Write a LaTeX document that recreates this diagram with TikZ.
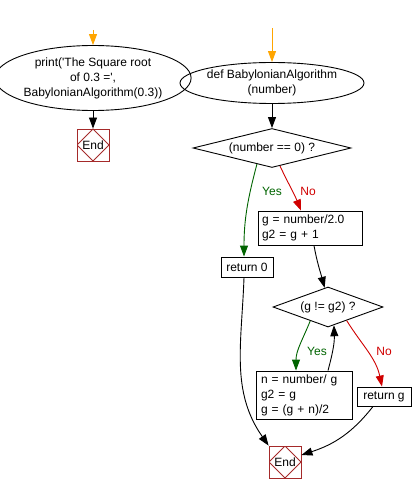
\documentclass[tikz,border=0pt]{standalone}
\usepackage{fontspec}
\setmainfont{Liberation Sans}
\usetikzlibrary{shapes.geometric,arrows.meta}
\definecolor{startorange}{HTML}{FFA500}
\definecolor{yesgreen}{HTML}{006400}
\definecolor{nored}{HTML}{D00000}
\definecolor{endred}{HTML}{A52A2A}
\begin{document}
\begin{tikzpicture}[
    x=1pt,
    y=-1pt,
    line width=0.9pt,
    font=\fontsize{12}{15}\selectfont,
    >={Triangle[length=11pt,width=8pt]},
    every node/.style={
      inner sep=0pt
    },
    ovalbox/.style={
      draw,
      ellipse,
      align=center
    },
    askbox/.style={
      draw,
      diamond,
      aspect=4
    },
    workbox/.style={
      draw,
      rectangle,
      align=left
    },
    endbox/.style={
      draw=endred,
      rectangle,
      minimum size=32pt,
      path picture={
        \draw[endred] (path picture bounding box.north) --
          (path picture bounding box.east) --
          (path picture bounding box.south) --
          (path picture bounding box.west) -- cycle;
      }
    },
    lbl/.style={}
  ]
    \useasboundingbox (0, 0) rectangle (413, 494);

    \coordinate (start1) at (93, 30);
    \node[ovalbox, minimum width=177pt, minimum height=65pt] (print) at (93, 78)
      {print(\textquotesingle The Square root\\of 0.3 =\textquotesingle,\\BabylonianAlgorithm(0.3))};
    \node[endbox] (end1) at (93, 145) {End};

    \coordinate (start2) at (272, 28);
    \node[ovalbox, minimum width=163pt, minimum height=41pt] (def) at (272, 83)
      {def BabylonianAlgorithm\\(number)};
    \node[askbox, minimum width=158pt, minimum height=39pt] (iszero) at (272, 148)
      {(number == 0) ?};
    \node[workbox, minimum width=104pt, minimum height=34pt, text width=96pt] (init) at (310, 228)
      {g = number/2.0\\g2 = g + 1};
    \node[workbox, minimum width=52pt, minimum height=20pt, align=center] (ret0) at (247, 267)
      {return 0};
    \node[askbox, aspect=2.75, minimum width=110pt, minimum height=40pt] (isdiff) at (328, 307)
      {(g != g2) ?};
    \node[workbox, minimum width=96pt, minimum height=48pt, text width=86pt] (step) at (304, 395)
      {n = number/ g\\g2 = g\\g = (g + n)/2};
    \node[workbox, minimum width=54pt, minimum height=19pt, align=center] (retg) at (384, 396.5)
      {return g};
    \node[endbox] (end2) at (285, 462) {End};

    \node[lbl, text=yesgreen] (yes1) at (272, 191) {Yes};
    \node[lbl, text=nored] (no1) at (308, 191) {No};
    \node[lbl, text=yesgreen] (yes2) at (317, 351) {Yes};
    \node[lbl, text=nored] (no2) at (384, 351) {No};

    \draw[->, startorange] (start1) to (print);
    \draw[->] (print) to (end1);
    \draw[->, startorange] (start2) to (def);
    \draw[->] (def) to (iszero);
    \draw[->, yesgreen] (iszero.-133) to[out=-105, in=90] ([xshift=-3pt]ret0.north);
    \draw[->, nored] (iszero.-66) to[out=-65, in=112] ([xshift=-9pt]init.north);
    \draw[->] ([xshift=4pt]init.south) to[out=-80, in=105] (isdiff.100);
    \draw[->, yesgreen] (isdiff.-142) to[out=-112, in=90] ([xshift=-8pt]step.north);
    \draw[->] ([xshift=24pt]step.north) to[out=75, in=-88] (isdiff.-72);
    \draw[->, nored] (isdiff.-36) to[out=-58, in=102] ([xshift=-2pt]retg.north);
    \draw[->] ([xshift=-3pt]ret0.south) to[out=-92, in=125] (end2.north west);
    \draw[->] ([xshift=-11pt]retg.south) to[out=-128, in=18] ([yshift=7pt]end2.east);

  \end{tikzpicture}
\end{document}
